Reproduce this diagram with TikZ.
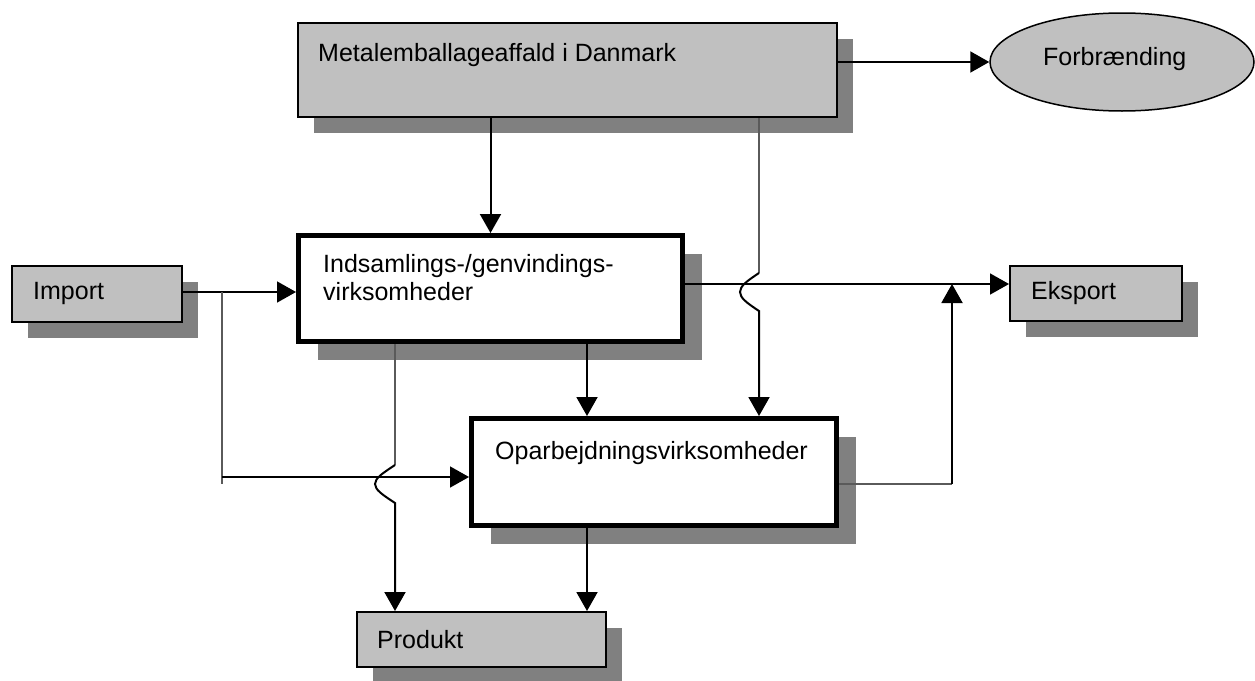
\documentclass[tikz,border=0pt]{standalone}
\usepackage{fontspec}
\setmainfont{Liberation Sans}
\usetikzlibrary{arrows.meta,shapes.geometric,shadows}
\definecolor{boxgray}{HTML}{C0C0C0}
\definecolor{shgray}{HTML}{808080}
\definecolor{thingray}{HTML}{5A5A5A}
\begin{document}
\begin{tikzpicture}[x=1pt,y=-1pt,
  graybox/.style={rectangle, draw=black, line width=2pt, fill=boxgray, inner sep=0pt,
    drop shadow={shadow xshift=16pt, shadow yshift=-16pt, opacity=1, fill=shgray}},
  whitebox/.style={rectangle, draw=black, line width=5pt, fill=white, inner sep=0pt,
    drop shadow={shadow xshift=19pt, shadow yshift=-18pt, opacity=1, fill=shgray}},
  txt/.style={anchor=base west, inner sep=0pt, font=\fontsize{25pt}{28pt}\selectfont},
  arr/.style={-{Triangle[length=19pt,width=21pt]}},
  mainline/.style={line width=2pt, black},
  medline/.style={line width=1.6pt, black},
  thinline/.style={line width=1.2pt, thingray}
]
\useasboundingbox (0,0) rectangle (1255,680);

% boxes
\node[graybox, minimum width=539pt, minimum height=94pt] (M) at (567.5,70) {};
\node[txt] (Mt) at (318,61) {Metalemballageaffald i Danmark};
\node[ellipse, draw=black, line width=1.5pt, fill=boxgray, minimum width=264pt, minimum height=98pt, inner sep=0pt] (F) at (1122,62) {};
\node[txt] (Ft) at (1043,65) {Forbrænding};
\node[graybox, minimum width=170pt, minimum height=56pt] (Im) at (97,294) {};
\node[txt] (Imt) at (33,299) {Import};
\node[graybox, minimum width=172pt, minimum height=55pt] (E) at (1096,293.5) {};
\node[txt] (Et) at (1031,299) {Eksport};
\node[graybox, minimum width=249pt, minimum height=55pt] (P) at (481.5,639.5) {};
\node[txt] (Pt) at (377,648) {Produkt};
\node[whitebox, minimum width=384pt, minimum height=106pt] (I) at (490.5,288.5) {};
\node[txt] (It1) at (323,272) {Indsamlings-/genvindings-};
\node[txt] (It2) at (323,300) {virksomheder};
\node[whitebox, minimum width=365pt, minimum height=107pt] (O) at (654,472) {};
\node[txt] (Ot) at (495,459) {Oparbejdningsvirksomheder};

% helper coordinates
\coordinate (a1) at (759,273);
\coordinate (a2) at (740,292);
\coordinate (a3) at (759,311);
\coordinate (b1) at (395,465);
\coordinate (b2) at (375,484);
\coordinate (b3) at (395,503);
\coordinate (j1) at (222,292);
\coordinate (j2) at (222,484);
\coordinate (j3) at (222,477);
\coordinate (c1) at (587,400);
\coordinate (e1) at (700,284);
\coordinate (d1) at (952,484);

% connectors
\draw[mainline,arr] (M.east |- F.west) -- (F.west);
\draw[mainline,arr] (M.south -| I.north) -- (I.north);
\draw[thinline] (M.south -| a1) -- (a1);
\draw[mainline,arr] (a1) .. controls (747,281) and (740,286) .. (a2)
  .. controls (740,298) and (747,303) .. (a3) -- (O.north -| a3);
\draw[medline,arr] (Im.east |- j1) -- (j1 -| I.west);
\draw[thinline] (j1) -- (j2);
\draw[medline,arr] (j3) -- (j3 -| O.west);
\draw[thinline] (I.south -| b1) -- (b1);
\draw[mainline,arr] (b1) .. controls (383,473) and (375,478) .. (b2)
  .. controls (375,490) and (383,495) .. (b3) -- (P.north -| b3);
\draw[mainline,arr] (I.south -| c1) -- (O.north -| c1);
\draw[mainline,arr] (O.south -| c1) -- (P.north -| c1);
\draw[medline,arr] (I.east |- e1) -- (E.west |- e1);
\draw[thinline] (O.east |- d1) -- (d1);
\draw[mainline,arr] (d1) -- (d1 |- e1);
\end{tikzpicture}
\end{document}
